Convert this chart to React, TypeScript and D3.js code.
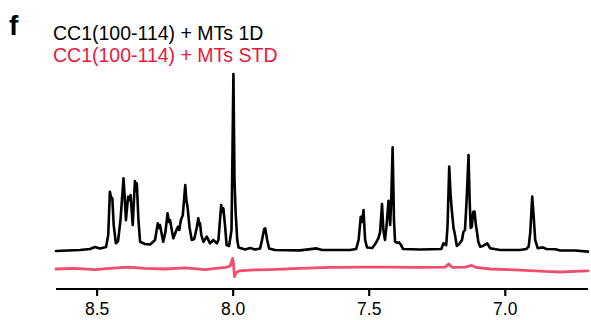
import React from "react";
import * as d3 from "d3";

// 1D 1H NMR spectrum (chemical shift in ppm, intensity in a.u.; tallest peak = 100)
const ppm1D = [
  8.651, 8.563, 8.526, 8.508, 8.489, 8.467, 8.459, 8.453, 8.449, 8.444,
  8.439, 8.431, 8.423, 8.414, 8.403, 8.399, 8.394, 8.386, 8.381, 8.377,
  8.369, 8.361, 8.357, 8.354, 8.348, 8.342, 8.324, 8.305, 8.287, 8.277,
  8.273, 8.269, 8.257, 8.249, 8.241, 8.236, 8.232, 8.220, 8.211, 8.203,
  8.198, 8.192, 8.185, 8.176, 8.172, 8.167, 8.160, 8.152, 8.143, 8.134,
  8.128, 8.125, 8.122, 8.117, 8.109, 8.097, 8.085, 8.073, 8.060, 8.054,
  8.044, 8.040, 8.036, 8.030, 8.024, 8.015, 8.006, 7.999, 7.995, 7.991,
  7.985, 7.980, 7.956, 7.938, 7.919, 7.901, 7.894, 7.886, 7.882, 7.875,
  7.868, 7.846, 7.754, 7.693, 7.673, 7.571, 7.548, 7.539, 7.531, 7.526,
  7.521, 7.515, 7.508, 7.489, 7.478, 7.466, 7.460, 7.453, 7.448, 7.442,
  7.436, 7.429, 7.423, 7.419, 7.414, 7.409, 7.405, 7.397, 7.390, 7.383,
  7.376, 7.313, 7.235, 7.227, 7.217, 7.212, 7.206, 7.201, 7.197, 7.193,
  7.190, 7.186, 7.178, 7.169, 7.159, 7.154, 7.148, 7.142, 7.135, 7.131,
  7.127, 7.123, 7.118, 7.113, 7.108, 7.104, 7.099, 7.092, 7.082, 7.066,
  7.056, 7.019, 6.945, 6.923, 6.914, 6.908, 6.901, 6.896, 6.890, 6.881,
  6.862, 6.849, 6.816, 6.798, 6.743, 6.696,
];
const int1D = [
  -0.6, 0, 0.6, 1.7, 0.9, 1.7, 8.5, 33.1, 30.1, 29.4,
  14.2, 3.8, 5.1, 17.0, 40.7, 31.2, 17.0, 30.3, 28.4, 31.2,
  14.2, 39.2, 34.1, 37.9, 17.0, 4.7, 3.4, 3.1, 5.7, 15.2,
  12.5, 14.2, 4.7, 10.2, 20.8, 15.9, 17.0, 6.6, 10.2, 13.2,
  11.4, 17.0, 19.9, 36.9, 28.4, 23.7, 12.5, 5.7, 6.2, 12.5,
  18.0, 14.2, 15.3, 8.5, 4.7, 7.6, 3.8, 5.7, 3.8, 5.7,
  25.6, 21.6, 23.7, 14.2, 2.8, 2.3, 11.4, 100, 39.8, 21.8,
  5.7, 1.4, 0.3, 1.1, 0.3, 0.9, 5.7, 11.9, 12.3, 5.7,
  0.9, 0, -0.2, 0.9, 0, 0, 0.6, 5.7, 18.9, 15.9,
  22.7, 5.7, 1.4, 1.1, 3.4, 6.8, 10.2, 26.1, 11.4, 5.7,
  14.2, 28.0, 14.2, 28.4, 58.3, 17.0, 4.7, 4.0, 4.3, 2.8,
  0.6, 0.3, 0.6, 3.8, 2.8, 14.2, 47.4, 31.2, 23.7, 17.0,
  12.3, 9.7, 2.3, 3.4, 5.7, 10.2, 11.4, 28.4, 54.0, 28.4,
  12.5, 13.2, 21.6, 21.8, 14.2, 10.2, 4.5, 1.9, 2.3, 3.8,
  1.0, 0, 0, 0.6, 1.9, 10.2, 30.3, 19.9, 5.7, 1.0,
  1.5, 0.6, 0.4, -0.3, -0.3, -0.9,
];

// STD spectrum (same intensity units)
const ppmSTD = [
  8.651, 8.581, 8.508, 8.453, 8.386, 8.324, 8.251, 8.176, 8.103, 8.048,
  8.026, 8.011, 8.002, 7.999, 7.995, 7.990, 7.978, 7.938, 7.865, 7.754,
  7.644, 7.534, 7.423, 7.313, 7.221, 7.208, 7.195, 7.148, 7.123, 7.107,
  7.056, 6.945, 6.854, 6.798, 6.743, 6.696,
];
const intSTD = [
  0, 0.3, -0.3, 0.3, 1.1, 0.3, 0, 0.6, -0.3, 0.6,
  0.9, 1.7, 6.0, 3.4, -4.3, -2.3, -1.1, -0.6, -0.3, 0.3,
  0.9, 1.1, 1.1, 0.9, 1.1, 2.8, 0.9, 1.1, 2.0, 0.9,
  0, -0.6, -1.4, -1.7, -1.4, -1.1,
];

const xTicks = [8.5, 8.0, 7.5, 7.0];
const xDomain = [8.651, 6.696];
const panelLetter = "f";
const legendLabels = ["CC1(100-114) + MTs 1D", "CC1(100-114) + MTs STD"];

const BLACK = "#000000";
const RED_TEXT = "#e8193f";
const RED_LINE = "#f24d6d";
const FONT = "'Liberation Sans', Arial, Helvetica, sans-serif";

export default function App() {
  const W = 591;
  const H = 320;
  const x = d3.scaleLinear().domain(xDomain).range([56, 588]);
  const y1 = d3.scaleLinear().domain([0, 100]).range([250, 74]);
  const y2 = d3.scaleLinear().domain([0, 100]).range([269, 93]);
  const axisY = 289;

  const d1 = ppm1D.map((p, i) => [p, int1D[i]] as [number, number]);
  const d2 = ppmSTD.map((p, i) => [p, intSTD[i]] as [number, number]);
  const line1 = d3
    .line<[number, number]>()
    .x((d) => x(d[0]))
    .y((d) => y1(d[1]));
  const line2 = d3
    .line<[number, number]>()
    .x((d) => x(d[0]))
    .y((d) => y2(d[1]));

  return (
    <svg
      width={W}
      height={H}
      style={{ position: "absolute", left: 0, top: 0, background: "#fff" }}
      fontFamily={FONT}
    >
      <rect width={W} height={H} fill="#fff" />
      <text x={9} y={35} fontSize={28} fontWeight="bold" fill={BLACK}>
        {panelLetter}
      </text>
      <text x={53} y={40} fontSize={19.5} fill={BLACK}>
        {legendLabels[0]}
      </text>
      <text x={53} y={62} fontSize={19.5} fill={RED_TEXT}>
        {legendLabels[1]}
      </text>

      <path
        d={line2(d2) || ""}
        fill="none"
        stroke={RED_LINE}
        strokeWidth={2.8}
        strokeLinejoin="round"
        strokeLinecap="round"
      />
      <path
        d={line1(d1) || ""}
        fill="none"
        stroke={BLACK}
        strokeWidth={2.6}
        strokeLinejoin="round"
        strokeLinecap="round"
      />

      <line
        x1={x(xDomain[0])}
        x2={x(xDomain[1])}
        y1={axisY}
        y2={axisY}
        stroke={BLACK}
        strokeWidth={2.2}
      />
      {xTicks.map((t) => (
        <g key={t}>
          <line x1={x(t)} x2={x(t)} y1={axisY} y2={axisY + 7} stroke={BLACK} strokeWidth={2.2} />
          <text x={x(t)} y={315} fontSize={17.5} textAnchor="middle" fill={BLACK}>
            {t.toFixed(1)}
          </text>
        </g>
      ))}
    </svg>
  );
}
